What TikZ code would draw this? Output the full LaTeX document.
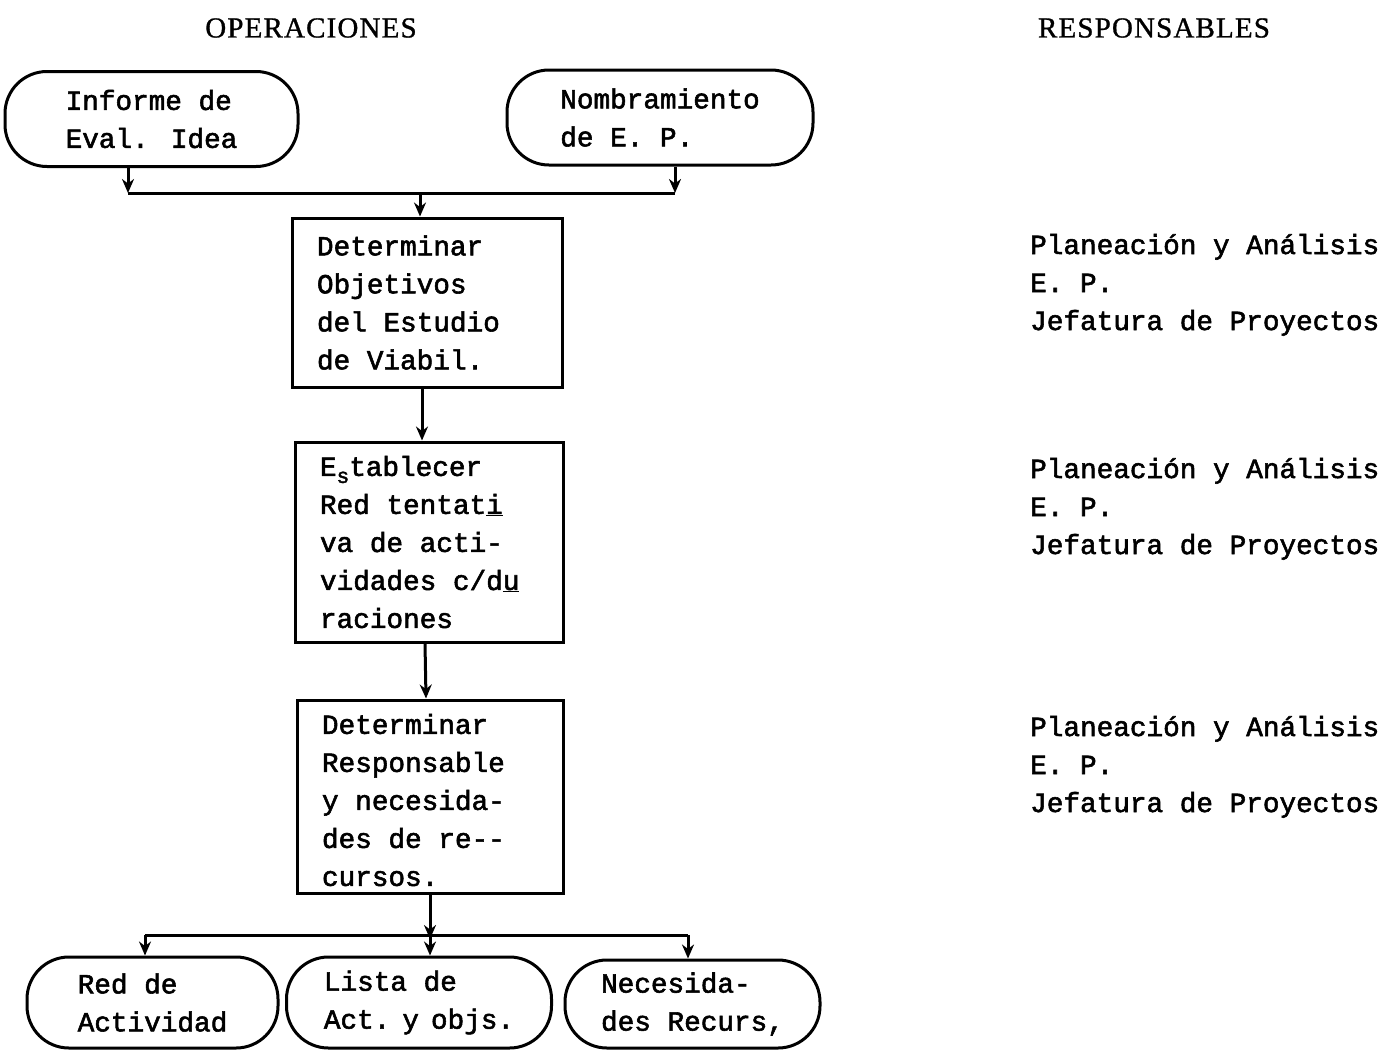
\documentclass[tikz,border=0pt]{standalone}
\usepackage{fontspec}
\setmainfont{Liberation Serif}
\newfontfamily\tw[FakeBold=2]{Liberation Mono}
\newfontfamily\hdr[LetterSpace=4,FakeBold=1]{Liberation Serif}
\usetikzlibrary{arrows.meta}
\newcommand{\boxtext}[2]{\parbox{#1}{\raggedright #2}}
\begin{document}
\begin{tikzpicture}[x=1pt,y=-1pt,
  every node/.style={font=\tw\fontsize{27.7}{38}\selectfont},
  term/.style={draw, line width=3pt, rounded corners=42pt, align=left, inner sep=0pt},
  proc/.style={draw, line width=3pt, inner xsep=25pt, inner ysep=0pt},
  head/.style={font=\hdr\fontsize{29}{32}\selectfont, inner sep=0pt},
  resp/.style={align=left, anchor=base west, inner sep=0pt},
  conn/.style={line width=3pt},
  arr/.style={conn, -{Stealth[length=14pt,width=12pt]}},
  ]
\useasboundingbox (0,0) rectangle (1388,1055);
\fill[white] (0,0) rectangle (1388,1055);

% headers
\node[head] (hop) at (311,28) {OPERACIONES};
\node[head] (hre) at (1154,28) {RESPONSABLES};

% terminals top
\node[term, minimum width=293pt, minimum height=95pt] (inf) at (151.5,119) {Informe de\\Eval. Idea};
\node[term, minimum width=306pt, minimum height=95pt] (nom) at (660,117.5) {Nombramiento\\de E. P.};

% process boxes
\node[proc, minimum width=270pt, minimum height=169pt] (b1) at (427,302.5)
  {\boxtext{220pt}{Determinar\\Objetivos\\del Estudio\\de Viabil.}};
\node[proc, minimum width=268pt, minimum height=200pt] (b2) at (429,542)
  {\boxtext{218pt}{E\raisebox{-7pt}{\fontsize{21}{21}\selectfont s}tablecer\\Red tentat\underline{i}\\va de acti-\\vidades c/d\underline{u}\\raciones}};
\node[proc, minimum width=266pt, minimum height=193pt] (b3) at (430,796.5)
  {\boxtext{216pt}{\rule{0pt}{27pt}Determinar\\Responsable\\y necesida-\\des de re--\\cursos.}};

% terminals bottom
\node[term, minimum width=251pt, minimum height=91pt] (red) at (152.5,1002.5) {Red de\\Actividad};
\node[term, minimum width=265pt, minimum height=91pt] (lis) at (419,1002.5) {Lista de\\Act.\hspace{12pt}y\hspace{12pt}objs.};
\node[term, minimum width=255pt, minimum height=88pt] (nec) at (692.5,1004) {Necesida-\\des Recurs,};

% responsables
\node[resp] (r1) at (1030,330) {Planeación y Análisis\\E. P.\\Jefatura de Proyectos};
\node[resp] (r2) at (1030,554) {Planeación y Análisis\\E. P.\\Jefatura de Proyectos};
\node[resp] (r3) at (1030,812) {Planeación y Análisis\\E. P.\\Jefatura de Proyectos};

% junction coordinates
\coordinate (jl) at (128,193);
\coordinate (jr) at (675,193);
\coordinate (jc) at (420,193);
\coordinate (kl) at (145,935);
\coordinate (kc) at (430,935);
\coordinate (kr) at (688,935);

% connectors
\draw[arr] (inf.south -| jl) -- (jl);
\draw[arr] (nom.south -| jr) -- (jr);
\draw[conn] (jl) -- (jr);
\draw[arr] (jc) -- (b1.north -| jc);
\draw[arr] ([xshift=-5pt]b1.south) -- ([xshift=-7pt]b2.north);
\draw[arr] ([xshift=-4pt]b2.south) -- ([xshift=-4pt]b3.north);
\draw[arr] (b3.south -| kc) -- ([yshift=-4pt]kc);
\draw[conn] (kl) -- (kr);
\draw[arr] (kl) -- (red.north -| kl);
\draw[arr] (kc) -- (lis.north -| kc);
\draw[arr] (kr) -- (nec.north -| kr);
\end{tikzpicture}
\end{document}
